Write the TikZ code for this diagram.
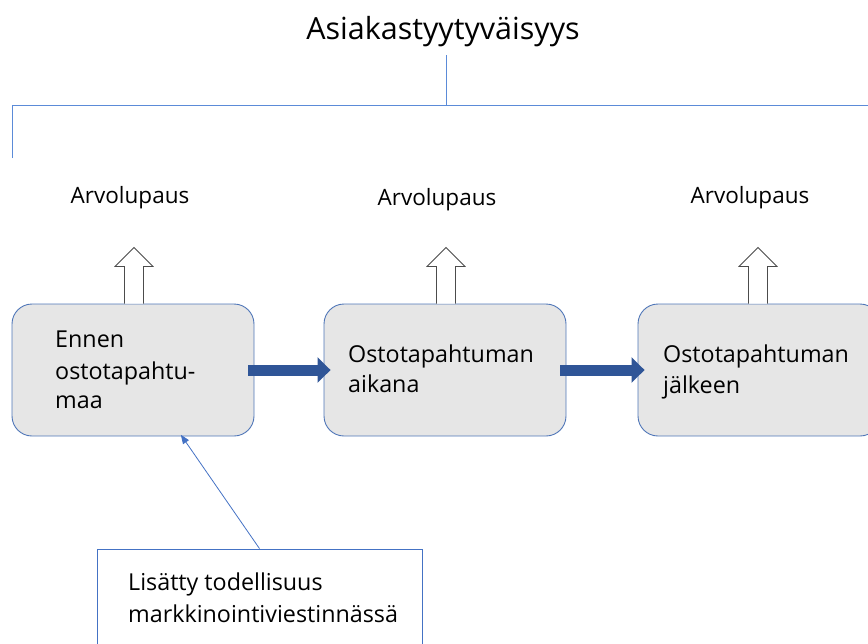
\documentclass[tikz,border=0pt]{standalone}
\usepackage{fontspec}
\setmainfont{Open Sans}
\usetikzlibrary{arrows.meta,calc}
\definecolor{linkblue}{HTML}{5B8BD8}
\definecolor{boxedge}{HTML}{4F76B8}
\definecolor{boxfill}{HTML}{E6E6E6}
\definecolor{flowblue}{HTML}{2F5597}
\definecolor{thinblue}{HTML}{4472C4}
\tikzset{
  stagebox/.style={draw=boxedge, line width=0.9pt, fill=boxfill, rounded corners=20pt,
    minimum width=242pt, minimum height=132pt, inner sep=0pt},
  stagetext/.style={anchor=base west, font=\fontsize{23.3}{28}\selectfont, inner sep=0pt},
  valuelabel/.style={font=\fontsize{22.5}{27}\selectfont, inner sep=0pt, anchor=base},
  hollow/.style={draw=black!70, line width=0.8pt, fill=white},
  flowarrow/.style={draw=flowblue, line width=11pt, -{Triangle[length=13pt,width=25pt]},
    shorten <=-6pt, shorten >=-7pt},
  bracket/.style={draw=linkblue, line width=1pt},
  notebox/.style={draw=thinblue, line width=0.8pt, fill=white, minimum width=325pt,
    minimum height=112pt, inner sep=0pt},
}
\begin{document}
\begin{tikzpicture}[x=1pt,y=-1pt]
\useasboundingbox (0,0) rectangle (868,643);
\clip (0,0) rectangle (868,643);
% title and bracket
\node[font=\fontsize{30.5}{36}\selectfont, inner sep=0pt, anchor=base] (title) at (443,39) {Asiakastyytyväisyys};
\coordinate (tb) at (446,55);
\coordinate (tj) at (446,105);
\coordinate (tl) at (12,105);
\coordinate (tr) at (868,105);
\coordinate (tld) at (12,158);
\draw[bracket] (tb) -- (tj);
\draw[bracket] (tld) -- (tl) -- (tr);
% boxes
\node[stagebox] (b1) at (133,370) {};
\node[stagebox] (b2) at (445,370) {};
\node[stagebox] (b3) at (759,370) {};
\node[stagetext] (t1) at (55,347) {Ennen};
\node[stagetext] (t1b) at (55,379) {ostotapahtu-};
\node[stagetext] (t1c) at (55,408) {maa};
\node[stagetext] (t2) at (348,362) {Ostotapahtuman};
\node[stagetext] (t2b) at (348,392) {aikana};
\node[stagetext] (t3) at (663,362) {Ostotapahtuman};
\node[stagetext] (t3b) at (663,393) {jälkeen};
% value labels
\node[valuelabel] (v1) at (130,203) {Arvolupaus};
\node[valuelabel] (v2) at (437,205) {Arvolupaus};
\node[valuelabel] (v3) at (750,203) {Arvolupaus};
% hollow up arrows
\foreach \b/\dx in {b1/1,b2/1,b3/-1}{
  \draw[hollow] ($(\b.north)+(\dx-9.5,0)$) -- ++(0,-37) -- ++(-9.5,0) -- ($(\b.north)+(\dx,-56)$)
    -- ($(\b.north)+(\dx+19,-37)$) -- ++(-9.5,0) -- ++(0,37);
}
% flow arrows
\draw[flowarrow] (b1.east) -- (b2.west);
\draw[flowarrow] (b2.east) -- (b3.west);
% note box
\node[notebox] (note) at (259.5,605) {};
\node[stagetext] (n1) at (128,590) {Lisätty todellisuus};
\node[stagetext] (n2) at (128,622) {markkinointiviestinnässä};
\draw[thinblue, line width=0.8pt, -{Triangle[length=9pt,width=7pt]}, shorten >=-2pt] (note.north) -- ($(b1.south)+(49,0)$);
\end{tikzpicture}
\end{document}
